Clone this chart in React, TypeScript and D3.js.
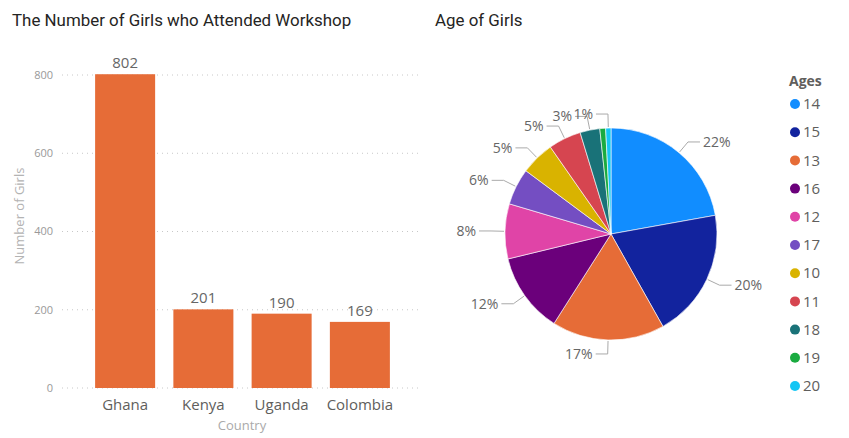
import * as d3 from "d3";

const countries = ["Ghana", "Kenya", "Uganda", "Colombia"];
const girls = [802, 201, 190, 169];
const yTicks = [0, 200, 400, 600, 800];

const ages = ["14", "15", "13", "16", "12", "17", "10", "11", "18", "19", "20"];
const ageCounts = [302, 268, 234, 166, 114, 76, 70, 68, 41, 12, 11];
const ageColors = [
  "#118DFF", "#12239E", "#E66C37", "#6B007B", "#E044A7", "#744EC2",
  "#D9B300", "#D64550", "#197278", "#1AAB40", "#15C6F4",
];

const W = 849;
const H = 438;
const labelFont = "'Open Sans', 'Noto Sans', sans-serif";
const titleFont = "Roboto, 'Noto Sans', sans-serif";

function BarChart() {
  const x = d3.scaleBand<string>().domain(countries).range([86, 399]).paddingInner(0.233).paddingOuter(0.1165);
  const y = d3.scaleLinear().domain([0, 800]).range([388, 75]);
  return (
    <g>
      <text x={12} y={26} fontFamily={titleFont} fontSize={16.9} fill="#252423">
        The Number of Girls who Attended Workshop
      </text>
      {yTicks.map((t) => (
        <g key={t}>
          <line x1={62} x2={422} y1={y(t)} y2={y(t)} stroke="#c8c8c8" strokeDasharray="1,4" strokeWidth={1} />
          <text x={53} y={y(t)} dy="0.35em" textAnchor="end" fontFamily={labelFont} fontSize={11} fill="#999">
            {t}
          </text>
        </g>
      ))}
      {countries.map((c, i) => (
        <g key={c}>
          <rect x={x(c)} y={y(girls[i])} width={x.bandwidth()} height={y(0) - y(girls[i])} fill="#E66C37" />
          <text x={(x(c) ?? 0) + x.bandwidth() / 2} y={y(girls[i]) - 6} textAnchor="middle" fontFamily={labelFont} fontSize={15} fill="#666">
            {girls[i]}
          </text>
          <text x={(x(c) ?? 0) + x.bandwidth() / 2} y={410} textAnchor="middle" fontFamily={labelFont} fontSize={15} fill="#605e5c">
            {c}
          </text>
        </g>
      ))}
      <text x={242} y={430} textAnchor="middle" fontFamily={labelFont} fontSize={13} fill="#aaa">
        Country
      </text>
      <text transform="translate(24,216) rotate(-90)" textAnchor="middle" fontFamily={labelFont} fontSize={13} fill="#b3b3b3">
        Number of Girls
      </text>
    </g>
  );
}

function PieChart() {
  const cx = 611;
  const cy = 234;
  const r = 106;
  const total = d3.sum(ageCounts);
  const pie = d3.pie<number>().sort(null).value((d) => d);
  const arcs = pie(ageCounts);
  const arc = d3.arc<d3.PieArcDatum<number>>().innerRadius(0).outerRadius(r);

  // label layout, largest first, skip labels that collide
  const placed: { x0: number; x1: number; y0: number; y1: number }[] = [];
  const labels = arcs.map((a, i) => {
    const mid = (a.startAngle + a.endAngle) / 2;
    const s = Math.sin(mid);
    const c = -Math.cos(mid);
    const p0 = [cx + (r + 1) * s, cy + (r + 1) * c];
    const p1 = [cx + (r + 14) * s, cy + (r + 14) * c];
    const right = s >= 0;
    const p2 = [p1[0] + (right ? 12 : -12), p1[1]];
    const txt = `${Math.round((ageCounts[i] / total) * 100)}%`;
    const w = txt.length * 8.6;
    const tx = p2[0] + (right ? 3 : -3);
    const box = right
      ? { x0: tx, x1: tx + w, y0: p2[1] - 7, y1: p2[1] + 7 }
      : { x0: tx - w, x1: tx, y0: p2[1] - 7, y1: p2[1] + 7 };
    const hit = placed.some((b) => b.x0 < box.x1 && box.x0 < b.x1 && b.y0 < box.y1 && box.y0 < b.y1);
    if (!hit) placed.push(box);
    return { p0, p1, p2, tx, txt, right, show: !hit };
  });

  return (
    <g>
      <text x={435} y={26} fontFamily={titleFont} fontSize={16.9} fill="#252423">
        Age of Girls
      </text>
      <g transform={`translate(${cx},${cy})`}>
        {arcs.map((a, i) => (
          <path key={ages[i]} d={arc(a) ?? ""} fill={ageColors[i]} stroke="#fff" strokeWidth={0.6} />
        ))}
      </g>
      {labels.map((l, i) =>
        l.show ? (
          <g key={ages[i]}>
            <polyline points={[l.p0, l.p1, l.p2].map((p) => p.join(",")).join(" ")} fill="none" stroke="#aaa" strokeWidth={1} />
            <text x={l.tx} y={l.p2[1]} dy="0.35em" textAnchor={l.right ? "start" : "end"} fontFamily={labelFont} fontSize={14} fill="#666">
              {l.txt}
            </text>
          </g>
        ) : null
      )}
      <text x={789} y={86} fontFamily={labelFont} fontSize={14} fontWeight="bold" fill="#605e5c">
        Ages
      </text>
      {ages.map((a, i) => (
        <g key={a} transform={`translate(0,${104 + i * 28.2})`}>
          <circle cx={795} cy={0} r={5} fill={ageColors[i]} />
          <text x={803} y={0} dy="0.35em" fontFamily={labelFont} fontSize={15} fill="#605e5c">
            {a}
          </text>
        </g>
      ))}
    </g>
  );
}

export default function App() {
  return (
    <svg width={W} height={H} style={{ position: "absolute", left: 0, top: 0, background: "#fff" }}>
      <BarChart />
      <PieChart />
    </svg>
  );
}
